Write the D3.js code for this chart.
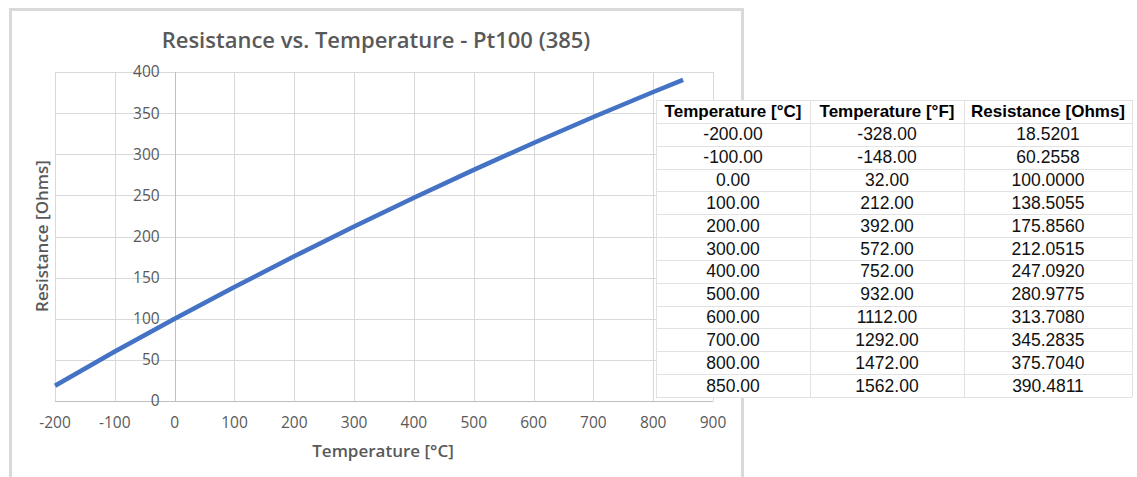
<!DOCTYPE html>
<html>
<head>
<meta charset="utf-8">
<script src="https://cdn.jsdelivr.net/npm/d3@7"></script>
<style>
  body { margin: 0; background: #fff; }
  svg { display: block; }
</style>
</head>
<body>
<div id="viz"></div>
<script>
// Pt100 (385) table values
var tempC = [-200, -100, 0, 100, 200, 300, 400, 500, 600, 700, 800, 850];
var tempF = [-328, -148, 32, 212, 392, 572, 752, 932, 1112, 1292, 1472, 1562];
var resistance = [18.5201, 60.2558, 100.0000, 138.5055, 175.8560, 212.0515, 247.0920, 280.9775, 313.7080, 345.2835, 375.7040, 390.4811];

// Axis ticks
var xTicks = [-200, -100, 0, 100, 200, 300, 400, 500, 600, 700, 800, 900];
var yTicks = [0, 50, 100, 150, 200, 250, 300, 350, 400];

var headers = ['Temperature [°C]', 'Temperature [°F]', 'Resistance [Ohms]'];

var width = 1137,
    height = 477;

var svg = d3.select("#viz")
  .append("svg")
  .attr("width", width)
  .attr("height", height);

// The excel chart frame, it runs off the bottom of the screenshot
svg.append("rect")
  .attr("x", 10.5)
  .attr("y", 9.5)
  .attr("width", 732)
  .attr("height", 490)
  .attr("fill", "#fff")
  .attr("stroke", "#d9d9d9")
  .attr("stroke-width", 3);

var x = d3.scaleLinear()
  .domain([-200, 900])
  .range([55, 713]);

var y = d3.scaleLinear()
  .domain([0, 400])
  .range([401, 72]);

//Gridlines first so everything sits on top
var grid = svg.append("g");

grid.selectAll(".vgrid")
  .data(xTicks)
  .enter()
  .append("line")
  .attr("x1", function(d) { return Math.round(x(d)) + 0.5; })
  .attr("x2", function(d) { return Math.round(x(d)) + 0.5; })
  .attr("y1", y(400))
  .attr("y2", y(0))
  .attr("stroke", "#d9d9d9");

grid.selectAll(".hgrid")
  .data(yTicks)
  .enter()
  .append("line")
  .attr("x1", x(-200))
  .attr("x2", x(900))
  .attr("y1", function(d) { return Math.round(y(d)) + 0.5; })
  .attr("y2", function(d) { return Math.round(y(d)) + 0.5; })
  .attr("stroke", "#d9d9d9");

// Axis lines, the vertical one crosses at 0 degrees
svg.append("line")
  .attr("x1", x(-200)).attr("x2", x(900))
  .attr("y1", Math.round(y(0)) + 0.5).attr("y2", Math.round(y(0)) + 0.5)
  .attr("stroke", "#bfbfbf");

svg.append("line")
  .attr("x1", Math.round(x(0)) + 0.5).attr("x2", Math.round(x(0)) + 0.5)
  .attr("y1", y(0)).attr("y2", y(400))
  .attr("stroke", "#bfbfbf");

var labelFont = "'Open Sans', sans-serif";

// Y labels hug the axis at 0
svg.append("g")
  .selectAll("text")
  .data(yTicks)
  .enter()
  .append("text")
  .attr("x", x(0) - 15)
  .attr("y", function(d) { return y(d); })
  .attr("dy", "0.35em")
  .attr("text-anchor", "end")
  .attr("font-family", labelFont)
  .attr("font-size", 15.5)
  .attr("fill", "#595959")
  .text(function(d) { return d; });

// X labels along the bottom
svg.append("g")
  .selectAll("text")
  .data(xTicks)
  .enter()
  .append("text")
  .attr("x", function(d) { return x(d); })
  .attr("y", 423)
  .attr("dy", "0.35em")
  .attr("text-anchor", "middle")
  .attr("font-family", labelFont)
  .attr("font-size", 15.5)
  .attr("fill", "#595959")
  .text(function(d) { return d; });

// Titles
svg.append("text")
  .attr("x", 376)
  .attr("y", 40)
  .attr("dy", "0.35em")
  .attr("text-anchor", "middle")
  .attr("font-family", labelFont)
  .attr("font-weight", 600)
  .attr("font-size", 22)
  .attr("fill", "#595959")
  .text("Resistance vs. Temperature - Pt100 (385)");

svg.append("text")
  .attr("x", 383)
  .attr("y", 451)
  .attr("dy", "0.35em")
  .attr("text-anchor", "middle")
  .attr("font-family", labelFont)
  .attr("font-weight", 600)
  .attr("font-size", 17)
  .attr("fill", "#595959")
  .text("Temperature [°C]");

svg.append("text")
  .attr("transform", "translate(42,236)rotate(-90)")
  .attr("dy", "0.35em")
  .attr("text-anchor", "middle")
  .attr("font-family", labelFont)
  .attr("font-weight", 600)
  .attr("font-size", 17)
  .attr("fill", "#595959")
  .text("Resistance [Ohms]");

// The curve itself
var points = tempC.map(function(d, i) { return [d, resistance[i]]; });

var line = d3.line()
  .x(function(d) { return x(d[0]); })
  .y(function(d) { return y(d[1]); });

svg.append("path")
  .datum(points)
  .attr("d", line)
  .attr("fill", "none")
  .attr("stroke", "#4472c4")
  .attr("stroke-width", 4.5)
  .attr("stroke-linejoin", "round");

// Now the table that was pasted over the right side of the chart
var colEdges = [656, 810, 964, 1132];
var nRows = tempC.length + 1;

var rowY = d3.scaleLinear()
  .domain([0, nRows])
  .range([100, 397]);

var table = svg.append("g");

table.append("rect")
  .attr("x", colEdges[0])
  .attr("y", rowY(0))
  .attr("width", colEdges[3] - colEdges[0])
  .attr("height", rowY(nRows) - rowY(0))
  .attr("fill", "#fff");

table.selectAll(".rowline")
  .data(d3.range(nRows + 1))
  .enter()
  .append("line")
  .attr("x1", colEdges[0])
  .attr("x2", colEdges[3])
  .attr("y1", function(d) { return Math.round(rowY(d)) + 0.5; })
  .attr("y2", function(d) { return Math.round(rowY(d)) + 0.5; })
  .attr("stroke", "#e2e2e2");

table.selectAll(".colline")
  .data(colEdges)
  .enter()
  .append("line")
  .attr("x1", function(d) { return d + 0.5; })
  .attr("x2", function(d) { return d + 0.5; })
  .attr("y1", rowY(0))
  .attr("y2", rowY(nRows))
  .attr("stroke", "#e2e2e2");

var colCenter = function(c) { return (colEdges[c] + colEdges[c + 1]) / 2; };
var tableFont = "'Liberation Sans', Arial, sans-serif";

table.selectAll(".head")
  .data(headers)
  .enter()
  .append("text")
  .attr("x", function(d, i) { return colCenter(i); })
  .attr("y", (rowY(0) + rowY(1)) / 2)
  .attr("dy", "0.35em")
  .attr("text-anchor", "middle")
  .attr("font-family", tableFont)
  .attr("font-weight", "bold")
  .attr("font-size", 17)
  .attr("fill", "#000")
  .text(function(d) { return d; });

// One row per reading
var rows = tempC.map(function(d, i) {
  return [d.toFixed(2), tempF[i].toFixed(2), resistance[i].toFixed(4)];
});

var rowG = table.selectAll(".row")
  .data(rows)
  .enter()
  .append("g");

rowG.selectAll("text")
  .data(function(d, i) { return d.map(function(v) { return {v: v, r: i}; }); })
  .enter()
  .append("text")
  .attr("x", function(d, i) { return colCenter(i); })
  .attr("y", function(d) { return (rowY(d.r + 1) + rowY(d.r + 2)) / 2; })
  .attr("dy", "0.35em")
  .attr("text-anchor", "middle")
  .attr("font-family", tableFont)
  .attr("font-size", 17.5)
  .attr("fill", "#111")
  .text(function(d) { return d.v; });
</script>
</body>
</html>
